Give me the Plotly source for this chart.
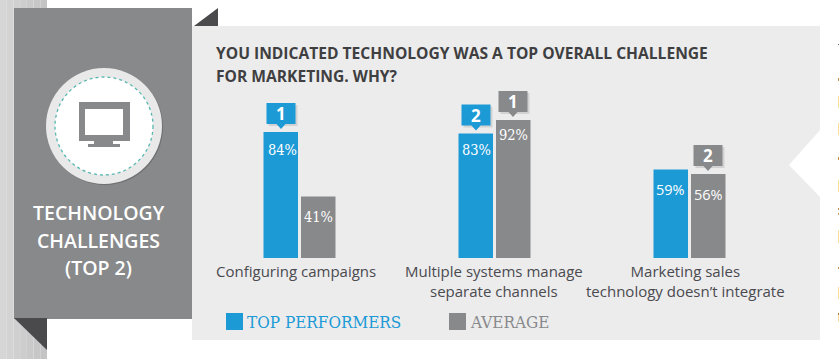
import plotly.graph_objects as go

categories = ["Configuring campaigns", "Multiple systems manage<br>separate channels",
              "Marketing sales<br>technology doesn’t integrate"]
top_performers = [84, 83, 59]
average = [41, 92, 56]
top_rank = [1, 2, None]
avg_rank = [None, 1, 2]
series_names = ["TOP PERFORMERS", "AVERAGE"]
title_lines = ["YOU INDICATED TECHNOLOGY WAS A TOP OVERALL CHALLENGE", "FOR MARKETING. WHY?"]
side_title = ["TECHNOLOGY", "CHALLENGES", "(TOP 2)"]

BLUE = "#1b9ad6"
GRAY = "#88898b"
W, H = 839, 359
L, R, T, B = 202, 787, 108, 258
SANS = "Open Sans"
SLAB = "DejaVu Serif Condensed"


def px(x):
    return (x - L) / (R - L)


def py(y):
    return (B - y) / (B - T)


def path(points):
    return "M" + " L".join(f"{px(x):.5f},{py(y):.5f}" for x, y in points) + " Z"


shapes = []


def rect(x0, y0, x1, y1, color, layer="below"):
    shapes.append(dict(type="rect", xref="paper", yref="paper", x0=px(x0), x1=px(x1), y0=py(y0), y1=py(y1),
                       fillcolor=color, line_width=0, layer=layer))


def poly(points, color, layer="below"):
    shapes.append(dict(type="path", xref="paper", yref="paper", path=path(points),
                       fillcolor=color, line_width=0, layer=layer))


def circle(cx, cy, r, color, line=None, dash=None, layer="below"):
    d = dict(type="circle", xref="paper", yref="paper", x0=px(cx - r), x1=px(cx + r), y0=py(cy - r), y1=py(cy + r),
             fillcolor=color, layer=layer)
    d["line"] = dict(color=line, width=1.3, dash=dash) if line else dict(width=0)
    shapes.append(d)


# background strip
for i, c in enumerate(["#d6d6d7", "#d3d3d4", "#d0d0d1", "#cdcdce", "#cacacb", "#c7c7c8", "#c4c4c5"]):
    rect(i * 47 / 7, 0, (i + 1) * 47 / 7, H, c)
# panel and side
rect(192, 26, 820, 340, "#ececed")
poly([(820, 130), (789, 165), (820, 197)], "#ffffff")
poly([(194, 26), (218, 26), (218, 8)], "#4a4a4c")
rect(14, 8, 192, 319, GRAY)
poly([(14, 318), (47, 318), (47, 350)], "#4a4a4c")
# icon
circle(105, 127, 58, "#6f7072")
circle(104, 126, 58, "#e9e9ea")
circle(104, 126, 49, "#ffffff", line="#58b8b0", dash="dot")
rect(79, 102, 130, 141, GRAY)
rect(85, 109, 123, 135, "#ffffff")
rect(94, 141, 113, 144, GRAY)
rect(88, 144, 120, 147, GRAY)

# clipped text of the next column at the right edge
for y0, y1, c in [(44, 45, "#6b6b6b"), (78, 81, "#c98d4a"), (96, 108, "#fbdc98"), (123, 135, "#fbdc98"),
                  (157, 160, "#c98d4a"), (180, 192, "#fbdc98"), (208, 210, "#c98d4a"), (213, 215, "#c9a06a"),
                  (230, 243, "#fbdc98"), (267, 269, "#c98d4a"), (287, 299, "#fbdc98"), (313, 315, "#a9743a"),
                  (315, 322, "#fbdc98")]:
    rect(838, y0, 839, y1, c)

# legend
rect(226, 313, 243, 330, BLUE)
rect(449, 313, 466, 330, GRAY)

annotations = []


def text(x, y, s, size, color, anchor="left", family=SANS, weight=None):
    annotations.append(dict(xref="paper", yref="paper", x=px(x), y=py(y), text=s, showarrow=False, xanchor=anchor,
                            yanchor="middle", align="center" if anchor == "center" else "left",
                            font=dict(family=family, size=size, color=color, weight=weight)))


text(213.5, 53, title_lines[0], 15.6, "#3f3f41", weight=700)
text(213.5, 76, title_lines[1], 15.6, "#3f3f41", weight=700)
for line, y in zip(side_title, [212, 240, 267]):
    text(99, y, line, 19.5, "#ffffff", anchor="center", weight=600)
text(245, 322, series_names[0], 17, BLUE, family=SLAB)
text(468, 322, series_names[1], 17, GRAY, family=SLAB)

# rank badges, placed from the data through the axes' scale
PITCH = (R - L) / len(categories)
SCALE = (B - T) / 100


def badge(i, side, value, rank, color):
    if rank is None:
        return
    cx = L + PITCH * (i + 0.5) + side * 18.5
    tip = B - value * SCALE - 3
    bw, bh = 29, 21
    top = tip - 5 - bh
    rect(cx - bw / 2 + 2, top + 2, cx + bw / 2 + 2, top + bh + 2, "#d2d2d3", layer="above")
    poly([(cx - bw / 2, top), (cx + bw / 2, top), (cx + bw / 2, top + bh), (cx + 4.5, top + bh), (cx, tip),
          (cx - 4.5, top + bh), (cx - bw / 2, top + bh)], color, layer="above")
    text(cx, top + bh / 2, f"<b>{rank}</b>", 17, "#ffffff", anchor="center")


for i in range(3):
    badge(i, -1, top_performers[i], top_rank[i], BLUE)
    badge(i, 1, average[i], avg_rank[i], GRAY)

# value labels, anchored to the bars through the axes
label_drop = {0: (18, 20), 1: (16, 15), 2: (20, 20)}
label_nudge = {0: (1.5, 0), 1: (0, 0), 2: (-1, 0)}
for i, cat in enumerate(categories):
    fam = SANS if i == 2 else SLAB
    for j, (vals, side) in enumerate([(top_performers, -1), (average, 1)]):
        annotations.append(dict(xref="x", yref="y", x=i, y=vals[i], text=f"{vals[i]}%", showarrow=False,
                                xanchor="center", yanchor="middle", xshift=side * 18.5 + label_nudge[i][j],
                                yshift=-label_drop[i][j], font=dict(family=fam, size=14.5, color="#ffffff")))

# category labels
label_shift = [-4, -0.5, -4]
for i, cat in enumerate(categories):
    annotations.append(dict(xref="x", yref="paper", x=i, y=0, yanchor="top", yshift=-1, xshift=label_shift[i],
                            text=cat, showarrow=False, xanchor="center", align="center",
                            font=dict(family=SANS, size=15, color="#4a4a4f")))

fig = go.Figure()
for name, vals, col in [(series_names[0], top_performers, BLUE), (series_names[1], average, GRAY)]:
    fig.add_bar(name=name, x=list(range(len(categories))), y=vals, marker=dict(color=col, line_width=0),
                customdata=categories, showlegend=False, hovertemplate="%{customdata}: %{y}%<extra></extra>")

fig.update_layout(
    width=W, height=H, autosize=False, paper_bgcolor="#ffffff", plot_bgcolor="rgba(0,0,0,0)",
    margin=dict(l=L, r=W - R, t=T, b=H - B, pad=0), barmode="group",
    bargap=1 - 75 / PITCH, bargroupgap=0.08, shapes=shapes, annotations=annotations,
    xaxis=dict(range=[-0.5, 2.5], tickvals=[], showgrid=False, zeroline=False, showline=False,
               ticks="", automargin=False, fixedrange=True),
    yaxis=dict(range=[0, 100], visible=False, fixedrange=True, automargin=False),
)
fig.write_html("out.html", config=dict(displayModeBar=False),
               post_script="document.body.style.margin='0';document.body.style.overflow='hidden';")
